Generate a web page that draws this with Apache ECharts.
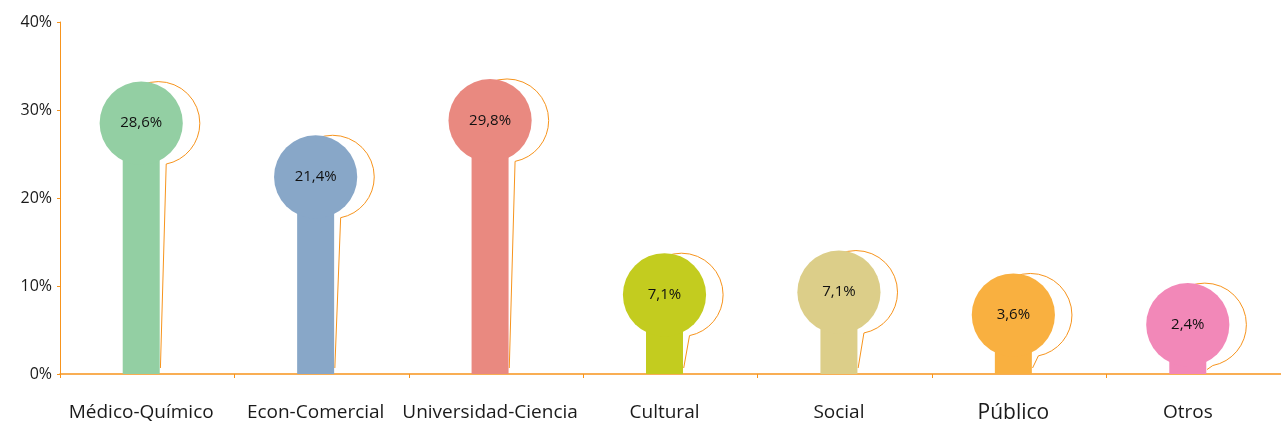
<!DOCTYPE html>
<html>
<head>
<meta charset="utf-8">
<script src="https://cdn.jsdelivr.net/npm/echarts@6/dist/echarts.min.js"></script>
<style>
html,body{margin:0;padding:0;background:#fff;}
#c{width:1281px;height:428px;}
</style>
</head>
<body>
<div id="c"></div>
<script>
// ---- data ----
const categories = ['Médico-Químico','Econ-Comercial','Universidad-Ciencia','Cultural','Social','Público','Otros'];
const values = [28.6, 21.4, 29.8, 7.1, 7.1, 3.6, 2.4];           // printed percentages
const bubbleLevel = [28.5, 22.4, 28.8, 9.0, 9.3, 6.7, 5.6];      // height (in %) of each bubble centre as drawn
const yTicks = [0, 10, 20, 30, 40];

// ---- styles ----
const palette = ['#93CFA3','#88A7C8','#E98980','#C3CC1F','#DCCE89','#F9B040','#F288B8'];
const ORANGE = '#F7941D';
const FONT = '"Open Sans", "Noto Sans", sans-serif';

const chart = echarts.init(document.getElementById('c'), null, {renderer:'canvas'});

const seriesData = categories.map((c, i) => [i, values[i], bubbleLevel[i]]);

function renderItem(params, api) {
  const idx = api.value(0);
  const base = api.coord([idx, 0]);
  const top = api.coord([idx, api.value(2)]);
  const cx = base[0] - 6;
  const cy = top[1];
  const by = base[1];
  const r = 41.6, hw = 18.5, sh = 17;
  const scx = cx + sh;
  const dx = hw + 6.5 - sh;
  const dy = Math.sqrt(r * r - dx * dx);
  const jx = cx + hw + 6.5, jy = cy + dy;
  const endAng = Math.atan2(dy, dx);
  const tailY = Math.max(by - 6, Math.min(by - 2, jy + 4));
  const fmt = String(api.value(1)).replace('.', ',') + '%';
  return {
    type: 'group',
    children: [
      { type: 'arc', shape: {cx: scx, cy: cy, r: r, startAngle: -Math.PI, endAngle: endAng, clockwise: true},
        style: {fill: 'none', stroke: ORANGE, lineWidth: 1} },
      { type: 'line', shape: {x1: jx, y1: jy, x2: cx + hw + 0.7, y2: tailY},
        style: {stroke: ORANGE, lineWidth: 1} },
      { type: 'rect', shape: {x: cx - hw, y: cy, width: hw * 2, height: by - cy},
        style: {fill: palette[idx]} },
      { type: 'circle', shape: {cx: cx, cy: cy, r: r},
        style: {fill: palette[idx]} },
      { type: 'text', style: {x: cx, y: cy, text: fmt, align: 'center', verticalAlign: 'middle',
        fill: '#111', font: '15px ' + FONT} }
    ]
  };
}

chart.setOption({
  animation: false,
  backgroundColor: '#fff',
  grid: {left: 60, width: 1227, top: 22, bottom: 54},
  xAxis: {
    type: 'category',
    data: categories,
    axisLine: {show: true, lineStyle: {color: ORANGE, width: 1.5}},
    axisTick: {show: true, length: 4, lineStyle: {color: ORANGE, width: 1}},
    axisLabel: {
      interval: 0, margin: 29, color: '#1a1a1a', fontFamily: FONT, fontSize: 19,
      padding: [0, 12, 0, 0],
      formatter: v => v === 'Público' ? '{big|' + v + '}' : v,
      rich: {big: {fontSize: 21, fontFamily: FONT, color: '#1a1a1a'}}
    }
  },
  yAxis: {
    type: 'value',
    min: yTicks[0], max: yTicks[yTicks.length - 1], interval: 10,
    axisLine: {show: true, lineStyle: {color: ORANGE, width: 1}},
    axisTick: {show: true, length: 3, lineStyle: {color: ORANGE}},
    splitLine: {show: false},
    axisLabel: {margin: 8, color: '#1a1a1a', fontFamily: FONT, fontSize: 16, formatter: '{value}%'}
  },
  series: [{
    type: 'custom',
    renderItem: renderItem,
    data: seriesData,
    encode: {x: 0, y: 2},
    clip: false
  }]
});
</script>
</body>
</html>
